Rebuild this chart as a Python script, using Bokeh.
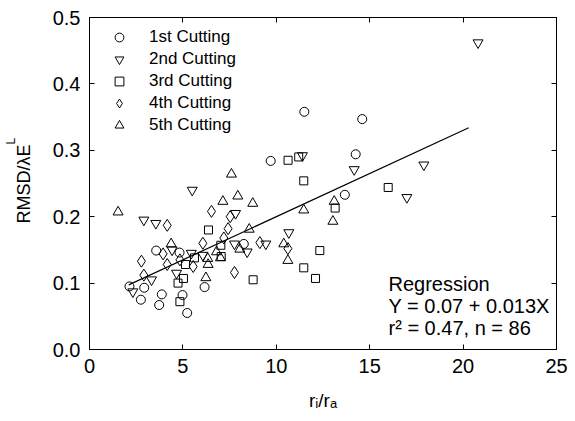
import math
from bokeh.plotting import figure
from bokeh.models import (Range1d, LinearAxis, FixedTicker, Label, Legend, LegendItem,
                          PrintfTickFormatter, CustomJSTickFormatter)
from bokeh.embed import file_html
from bokeh.resources import INLINE

# ---------------- data ----------------
c1_x = [11.5, 14.6, 14.25, 9.7, 13.67, 8.26, 3.57, 4.82, 2.14, 2.93, 2.75, 3.87, 3.73, 4.98, 5.23, 6.16]
c1_y = [0.358, 0.347, 0.294, 0.284, 0.233, 0.159, 0.149, 0.146, 0.095, 0.093, 0.075, 0.083, 0.067, 0.082, 0.055, 0.094]

c2_x = [20.8, 17.9, 16.99, 14.17, 11.4, 10.67, 9.44, 8.44, 7.76, 7.82, 5.5, 2.91, 3.55, 4.42, 5.45, 6.07, 4.66, 2.32, 3.32]
c2_y = [0.462, 0.278, 0.229, 0.271, 0.292, 0.176, 0.159, 0.147, 0.159, 0.205, 0.240, 0.195, 0.190, 0.150, 0.145, 0.142, 0.115, 0.087, 0.105]

c3_x = [10.63, 11.2, 11.47, 15.99, 13.15, 12.33, 11.47, 12.1, 8.76, 6.37, 7.03, 7.05, 5.62, 5.14, 5.03, 4.74, 4.84]
c3_y = [0.285, 0.290, 0.254, 0.244, 0.213, 0.149, 0.123, 0.107, 0.105, 0.180, 0.157, 0.140, 0.138, 0.128, 0.107, 0.100, 0.072]

c4_x = [4.16, 6.53, 7.53, 7.42, 7.19, 6.07, 9.12, 10.62, 7.76, 2.78, 3.94, 4.84, 5.55, 4.16, 2.91]
c4_y = [0.187, 0.208, 0.200, 0.182, 0.168, 0.160, 0.161, 0.152, 0.116, 0.133, 0.144, 0.135, 0.125, 0.128, 0.112]

c5_x = [1.53, 7.6, 7.14, 7.94, 8.74, 8.55, 11.47, 13.1, 13.03, 10.4, 10.62, 8.05, 6.8, 6.33, 4.37, 6.23, 7.01, 6.35]
c5_y = [0.207, 0.264, 0.223, 0.231, 0.220, 0.181, 0.210, 0.223, 0.193, 0.159, 0.134, 0.151, 0.147, 0.137, 0.159, 0.108, 0.138, 0.128]

series_names = ["1st Cutting", "2nd Cutting", "3rd Cutting", "4th Cutting", "5th Cutting"]
series_x = [c1_x, c2_x, c3_x, c4_x, c5_x]
series_y = [c1_y, c2_y, c3_y, c4_y, c5_y]
markers = ["circle", "inverted_triangle", "square", "diamond", "triangle"]
sizes = [9, 10, 8, 12, 10]

reg_intercept = 0.07
reg_slope = 0.013
reg_x = [2.1, 20.3]
reg_y = [reg_intercept + reg_slope * v for v in reg_x]

x_ticks = [0, 5, 10, 15, 20, 25]
y_ticks = [0.0, 0.1, 0.2, 0.3, 0.4, 0.5]

# ---------------- layout helpers ----------------
FL, FR, FT, FB = 89, 556, 17, 349
W, H = 575, 421
XMIN, XMAX, YMIN, YMAX = 0, 25, 0, 0.5

def dx(px):
    return XMIN + (px - FL) / (FR - FL) * (XMAX - XMIN)

def dy(py):
    return YMIN + (FB - py) / (FB - FT) * (YMAX - YMIN)

FONT = "Liberation Sans"

p = figure(width=W, height=H, output_backend="svg", toolbar_location=None,
           x_range=Range1d(XMIN, XMAX), y_range=Range1d(YMIN, YMAX),
           min_border_left=FL, min_border_right=W - FR,
           min_border_top=FT, min_border_bottom=H - FB)
p.background_fill_color = "white"
p.border_fill_color = "white"
p.outline_line_color = "black"
p.outline_line_width = 1
p.xgrid.visible = False
p.ygrid.visible = False

for ax in (p.xaxis[0], p.yaxis[0]):
    ax.major_tick_in = 5
    ax.major_tick_out = 0
    ax.minor_tick_line_color = None
    ax.axis_line_color = "black"
    ax.major_tick_line_color = "black"
    ax.major_label_text_font = FONT
    ax.major_label_text_font_size = "20px"
    ax.major_label_text_color = "black"
    ax.major_label_standoff = 9
p.xaxis[0].ticker = FixedTicker(ticks=x_ticks)
p.yaxis[0].ticker = FixedTicker(ticks=y_ticks)
p.yaxis[0].formatter = PrintfTickFormatter(format="%.1f")

# x axis title r_i/r_a with real subscript characters
p.xaxis[0].axis_label = "r\u1d62/r\u2090"
p.xaxis[0].axis_label_text_font = FONT
p.xaxis[0].axis_label_text_font_size = "19px"
p.xaxis[0].axis_label_text_font_style = "normal"
p.xaxis[0].axis_label_text_color = "black"
p.xaxis[0].axis_label_standoff = 14

blank = CustomJSTickFormatter(code="return ''")
top_ax = LinearAxis(ticker=FixedTicker(ticks=x_ticks), formatter=blank,
                    major_tick_in=5, major_tick_out=0, minor_tick_line_color=None,
                    major_label_standoff=0)
right_ax = LinearAxis(ticker=FixedTicker(ticks=y_ticks), formatter=blank,
                      major_tick_in=5, major_tick_out=0, minor_tick_line_color=None,
                      major_label_standoff=0)
p.add_layout(top_ax, "above")
p.add_layout(right_ax, "right")

# regression line
p.line(reg_x, reg_y, line_color="black", line_width=1.2)

renderers = []
for xs, ys, m, s in zip(series_x, series_y, markers, sizes):
    r = p.scatter(xs, ys, marker=m, size=s, fill_color=None,
                  line_color="black", line_width=1)
    renderers.append(r)

legend = Legend(items=[LegendItem(label=n, renderers=[r]) for n, r in zip(series_names, renderers)],
                location="top_left", border_line_color=None, background_fill_alpha=0,
                padding=9, margin=9, spacing=0, glyph_width=42, glyph_height=22,
                label_height=22, label_standoff=9, label_text_font=FONT,
                label_text_font_size="17px", label_text_color="black")
p.add_layout(legend)

# regression annotation
reg_lines = ["Regression", "Y = 0.07 + 0.013X", "r\u00b2 = 0.47, n = 86"]
for txt, py in zip(reg_lines, [283, 305, 327]):
    p.add_layout(Label(x=dx(388), y=dy(py), text=txt, text_font=FONT,
                       text_font_size="20px", text_baseline="middle", text_align="left",
                       text_color="black"))

# y axis title RMSD/λE_L as labels in the left side panel (screen units)
def slabel(t, x, y, fs, place, angle=0.0):
    p.add_layout(Label(x=x, y=y, x_units="screen", y_units="screen", text=t,
                       text_font=FONT, text_font_size=fs, angle=angle,
                       text_baseline="alphabetic", text_align="left", text_color="black"),
                 place)

slabel("RMSD/\u03bbE", -6, FB - 223, "18px", "left", math.pi / 2)
slabel("L", -5, FB - 144, "12px", "left", math.pi / 2)

open("out.html", "w").write(file_html(p, INLINE))
